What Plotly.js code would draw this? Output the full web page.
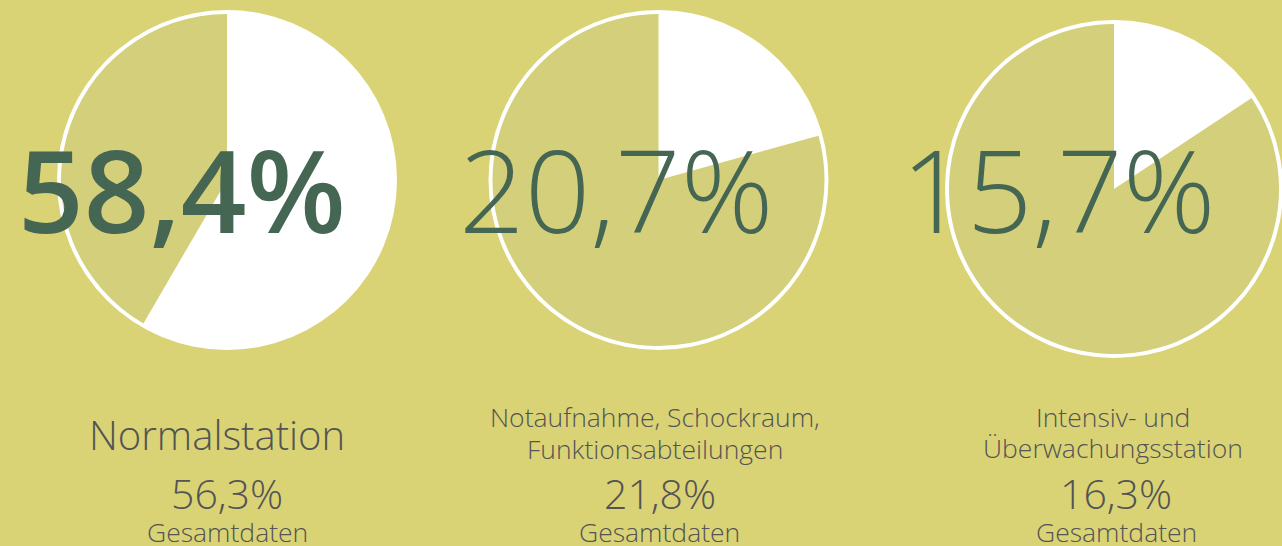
<!DOCTYPE html>
<html>
<head>
<meta charset="utf-8">
<script src="https://cdn.plot.ly/plotly-3.0.1.min.js"></script>
<style>
html, body { margin: 0; padding: 0; overflow: hidden; background: #d9d375; }
#chart { width: 1284px; height: 546px; }
</style>
</head>
<body>
<div id="chart"></div>
<script>
// ---- data ----
const categories = ['Normalstation', 'Notaufnahme, Schockraum,<br>Funktionsabteilungen', 'Intensiv- und<br>Überwachungsstation'];
const shares = [58.4, 20.7, 15.7];        // big pie value (%)
const totals = [56.3, 21.8, 16.3];        // Gesamtdaten (%)
const totalLabel = 'Gesamtdaten';

// ---- layout geometry (pixels) ----
const W = 1284, H = 546;
const pieCenters = [[227, 180], [658.5, 180], [1114, 189]];
const pieRadius = [170, 170, 169];
const ringWidth = 4;
const bigTextX = [181.5, 616, 1058];
const bigWeights = [600, 300, 300];
const labelX = [217, 654.5, 1113];
const labelBaselines = [[450], [427.5, 459], [427, 458]];
const labelSize = [40, 26.5, 26.5];
const totalX = [227, 660, 1116];

const BG = '#d9d375', SECTOR = '#d4cf7a', WHITE = '#ffffff';
const GREEN = '#466654', GRAY = '#545454';

const fmt = v => v.toFixed(1).replace('.', ',') + '%';
const px = x => x / W;
const py = y => 1 - y / H;
const mid = (baseline, size) => py(baseline - 0.388 * size);

function dom(cx, cy, r) {
  return { x: [px(cx - r), px(cx + r)], y: [py(cy + r), py(cy - r)] };
}

function note(x, y, text, size, color, weight) {
  return {
    xref: 'paper', yref: 'paper', x: x, y: y, xanchor: 'center', yanchor: 'middle',
    showarrow: false, text: text,
    font: { family: 'Open Sans', size: size, color: color, weight: weight }
  };
}

const traces = [];
const annotations = [];
shares.forEach((v, i) => {
  const [cx, cy] = pieCenters[i];
  const r = pieRadius[i];
  traces.push({
    type: 'pie', values: [1], labels: ['ring' + i], marker: { colors: [WHITE], line: { width: 0 } },
    domain: dom(cx, cy, r), textinfo: 'none', hoverinfo: 'skip', sort: false, showlegend: false
  });
  traces.push({
    type: 'pie', values: [v, 100 - v], labels: ['a' + i, 'b' + i],
    marker: { colors: [WHITE, SECTOR], line: { width: 0 } },
    domain: dom(cx, cy, r - ringWidth), textinfo: 'none', hoverinfo: 'skip',
    sort: false, direction: 'clockwise', rotation: 0, showlegend: false
  });
  annotations.push(note(px(bigTextX[i]), mid(233, 115), fmt(v), 115, GREEN, bigWeights[i]));
  categories[i].split('<br>').forEach((line, k) => {
    annotations.push(note(px(labelX[i]), mid(labelBaselines[i][k], labelSize[i]), line, labelSize[i], GRAY, 300));
  });
  annotations.push(note(px(totalX[i]), mid(509, 41), fmt(totals[i]), 41, GRAY, 300));
  annotations.push(note(px(totalX[i]), mid(542, 26.5), totalLabel, 26.5, GRAY, 300));
});

const layout = {
  width: W, height: H,
  margin: { l: 0, r: 0, t: 0, b: 0, pad: 0 },
  paper_bgcolor: BG, plot_bgcolor: BG,
  showlegend: false,
  annotations: annotations
};

Plotly.newPlot('chart', traces, layout, { displayModeBar: false, staticPlot: true });
</script>
</body>
</html>
